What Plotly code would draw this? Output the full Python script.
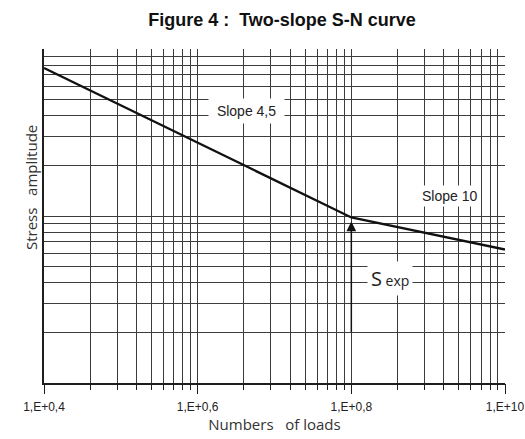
import numpy as np
import plotly.graph_objects as go

# ---- data ----
cycles = [1e4, 1e8, 1e10]          # numbers of loads (knee at 1E+08)
stress = [77.0, 9.8, 6.3]          # stress amplitude (relative)
major_x = [1e4, 1e6, 1e8, 1e10]
major_x_labels = ["1,E+0,4", "1,E+0,6", "1,E+0,8", "1,E+10"]
sub_factors = [1, 2, 3, 4, 5, 6, 7, 8, 9]
y_grid = [1, 2, 3, 4, 5, 6, 7, 8, 9, 10, 20, 30, 40, 50, 60, 70, 80, 90, 100]

# minor vertical grid: each labelled interval spans two decades
minor_x = [b * k ** 2 for b in major_x[:-1] for k in sub_factors] + [major_x[-1]]

# label positions (data coords)
lbl_slope1 = (10 ** 6.64, 42.5)
lbl_slope2 = (10 ** 9.28, 13.2)
lbl_sexp = (10 ** 8.50, 4.25)

GRID = "#3c3c3c"
DARK = "#1e1e1e"

fig = go.Figure()
fig.add_trace(go.Scatter(x=cycles, y=stress, mode="lines",
                         line=dict(color="#111", width=2.3),
                         hoverinfo="skip", showlegend=False, cliponaxis=False))
fig.add_trace(go.Scatter(x=[], y=[], xaxis="x2", showlegend=False))

fig.update_layout(
    width=525, height=439,
    margin=dict(l=44, r=20, t=49, b=56, autoexpand=False),
    plot_bgcolor="white", paper_bgcolor="white",
    title=dict(text="Figure 4 :\u00a0\u00a0Two-slope S-N curve",
               font=dict(family="Liberation Sans", size=18, color="#111", weight="bold"),
               x=282 / 525, xref="container", xanchor="center",
               y=1 - 20 / 439, yref="container", yanchor="middle"),
    xaxis=dict(type="log", range=[4, 10], tickvals=minor_x,
               ticktext=[""] * len(minor_x), ticks="outside", ticklen=5,
               tickcolor=DARK, tickwidth=1.2, automargin=False,
               showgrid=True, gridcolor=GRID, gridwidth=1.4,
               showline=True, linecolor=DARK, linewidth=1.6,
               zeroline=False),
    xaxis2=dict(type="log", range=[4, 10], overlaying="x", anchor="y", side="bottom",
                tickvals=major_x, ticktext=major_x_labels, automargin=False,
                ticks="outside", ticklen=10, tickcolor=DARK, tickwidth=1.4,
                ticklabelstandoff=3,
                tickfont=dict(family="Liberation Sans", size=12, color="#222"),
                showgrid=False, showline=False, zeroline=False,
                title=dict(text="Numbers\u00a0\u00a0 of loads",
                           font=dict(family="Open Sans", size=15, color="#333"),
                           standoff=4)),
    yaxis=dict(type="log", range=[0, 2], tickvals=y_grid, automargin=False,
               showticklabels=False, ticks="",
               showgrid=True, gridcolor=GRID, gridwidth=1.4,
               showline=True, linecolor=DARK, linewidth=1.6, zeroline=False),
)

label_font = dict(family="Liberation Sans", size=14, color="#222")
fig.add_annotation(x=np.log10(lbl_slope1[0]), y=np.log10(lbl_slope1[1]),
                   text="\u00a0Slope 4,5\u00a0", showarrow=False, font=label_font,
                   bgcolor="white", borderpad=4)
fig.add_annotation(x=np.log10(lbl_slope2[0]), y=np.log10(lbl_slope2[1]),
                   text="Slope 10", showarrow=False, font=label_font,
                   bgcolor="white", borderpad=2)
fig.add_annotation(x=np.log10(lbl_sexp[0]), y=np.log10(lbl_sexp[1]),
                   text="<span style='font-size:20px'>S</span> exp",
                   showarrow=False, font=dict(family="Open Sans", size=14, color="#222"),
                   bgcolor="white", borderpad=3)
# arrow pointing at the knee
fig.add_annotation(x=np.log10(cycles[1]), y=np.log10(stress[1]), text="",
                   showarrow=True, ax=0, ay=116, arrowhead=2, arrowsize=1.3,
                   arrowwidth=1.5, arrowcolor="#111", standoff=4)
# y title
fig.add_annotation(xref="paper", yref="paper", x=(19 - 44) / 461, y=(383 - 188) / 334,
                   text="Stress\u00a0\u00a0 amplitude", textangle=-90, showarrow=False,
                   font=dict(family="Open Sans", size=15, color="#333"))

fig.write_html("out.html")
